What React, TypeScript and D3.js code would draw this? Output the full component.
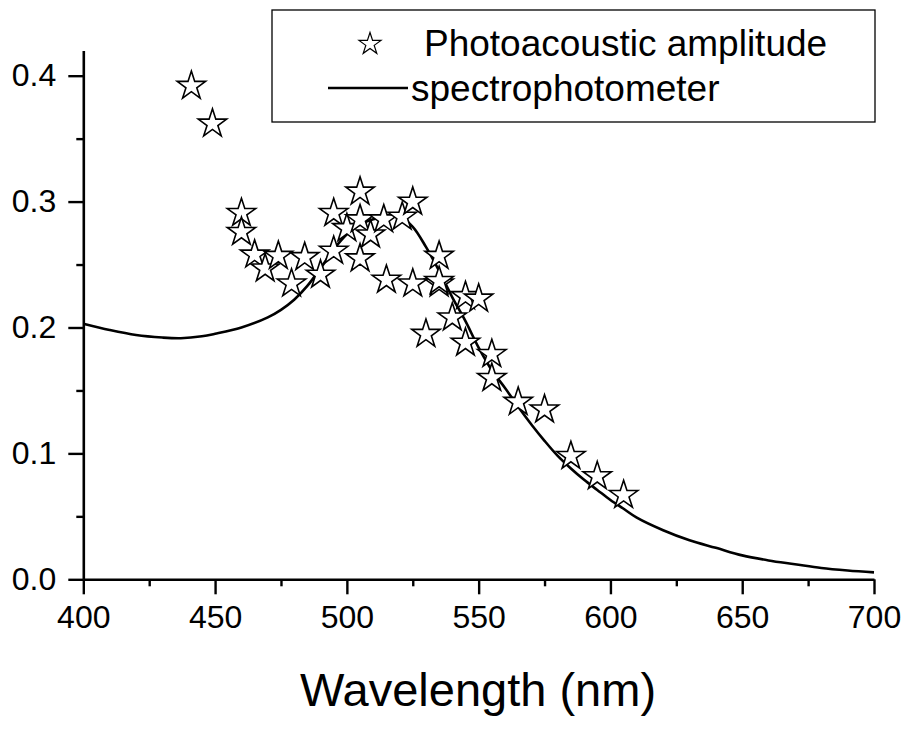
import { useEffect, useRef } from "react";
import * as d3 from "d3";

const paWavelength = [
  441, 449, 460, 460, 465, 469, 474, 479, 484, 490, 495, 495, 500, 505, 505, 505,
  509, 514, 515, 521, 525, 525, 530, 535, 535, 535, 540, 545, 545, 550, 555, 555,
  565, 575, 585, 595, 605,
];
const paAmplitude = [
  0.393, 0.363, 0.292, 0.277, 0.259, 0.248, 0.258, 0.236, 0.257, 0.243, 0.262, 0.292,
  0.280, 0.309, 0.287, 0.256, 0.275, 0.287, 0.239, 0.289, 0.301, 0.236, 0.196, 0.258,
  0.236, 0.238, 0.209, 0.226, 0.189, 0.224, 0.180, 0.161, 0.142, 0.136, 0.099, 0.083,
  0.068,
];

const specWavelength = [
  400, 410, 420, 430, 437, 445, 450, 460, 470, 475, 480, 485, 490, 495, 500, 505, 510, 515,
  520, 525, 530, 535, 540, 545, 550, 555, 560, 565, 570, 575, 580, 585, 590, 595, 600,
  605, 610, 620, 630, 640, 650, 660, 670, 680, 690, 700,
];
const specAbsorbance = [
  0.203, 0.198, 0.194, 0.192, 0.1915, 0.193, 0.195, 0.2, 0.208, 0.214, 0.222, 0.233, 0.247,
  0.262, 0.274, 0.282, 0.286, 0.288, 0.288, 0.28, 0.264, 0.245, 0.224, 0.205, 0.184,
  0.166, 0.152, 0.137, 0.123, 0.11, 0.098, 0.088, 0.079, 0.071, 0.063, 0.056, 0.049,
  0.039, 0.031, 0.025, 0.019, 0.015, 0.012, 0.009, 0.007, 0.0055,
];

const xTicks = [400, 450, 500, 550, 600, 650, 700];
const xMinor = [425, 475, 525, 575, 625, 675];
const yTicks = [0.0, 0.1, 0.2, 0.3, 0.4];
const yMinor = [0.05, 0.15, 0.25, 0.35];

const legendLabels = ["Photoacoustic amplitude", "spectrophotometer"];

const W = 908;
const H = 740;
const FONT = "'Liberation Sans', Arial, sans-serif";

export default function App() {
  const svgRef = useRef<SVGSVGElement | null>(null);

  useEffect(() => {
    const svg = d3.select(svgRef.current);
    svg.selectAll("*").remove();

    const x = d3.scaleLinear().domain([400, 700]).range([83.3, 874]);
    const y = d3.scaleLinear().domain([0, 0.42]).range([579.3, 50.5]);

    svg.append("rect").attr("width", W).attr("height", H).attr("fill", "#fff");

    // spectrophotometer curve
    const specPts = specWavelength.map((w, i) => [w, specAbsorbance[i]] as [number, number]);
    const line = d3
      .line<[number, number]>()
      .x((d) => x(d[0]))
      .y((d) => y(d[1]))
      .curve(d3.curveCatmullRom);
    svg
      .append("path")
      .datum(specPts)
      .attr("fill", "none")
      .attr("stroke", "#000")
      .attr("stroke-width", 2.6)
      .attr("d", line);

    // star markers
    const star = d3.symbol(d3.symbolStar, 250);
    svg
      .selectAll(".pa")
      .data(paWavelength.map((w, i) => [w, paAmplitude[i]]))
      .enter()
      .append("path")
      .attr("class", "pa")
      .attr("transform", (d) => `translate(${x(d[0])},${y(d[1]) + 1.5})`)
      .attr("d", star)
      .attr("fill", "#fff")
      .attr("stroke", "#000")
      .attr("stroke-width", 1.6);

    // axes
    const styleAxis = (g: d3.Selection<SVGGElement, unknown, null, undefined>) => {
      g.select(".domain").attr("stroke-width", 2.6);
      g.selectAll(".tick line").attr("stroke-width", 2.4);
      g.selectAll(".tick text")
        .attr("font-family", FONT)
        .attr("font-size", 32)
        .attr("fill", "#000");
    };

    const gx = svg
      .append("g")
      .attr("transform", `translate(0,${y(0)})`)
      .call(d3.axisBottom(x).tickValues(xMinor).tickSize(7).tickSizeOuter(0).tickFormat(() => ""));
    gx.select(".domain").remove();
    gx.selectAll(".tick line").attr("stroke-width", 2.4);

    const gx2 = svg
      .append("g")
      .attr("transform", `translate(0,${y(0)})`)
      .call(
        d3
          .axisBottom(x)
          .tickValues(xTicks)
          .tickSize(15)
          .tickSizeOuter(0)
          .tickPadding(11)
          .tickFormat(d3.format("d"))
      );
    styleAxis(gx2);

    const gy = svg
      .append("g")
      .attr("transform", `translate(${x(400)},0)`)
      .call(d3.axisLeft(y).tickValues(yMinor).tickSize(7).tickSizeOuter(0).tickFormat(() => ""));
    gy.select(".domain").remove();
    gy.selectAll(".tick line").attr("stroke-width", 2.4);

    const gy2 = svg
      .append("g")
      .attr("transform", `translate(${x(400)},0)`)
      .call(
        d3
          .axisLeft(y)
          .tickValues(yTicks)
          .tickSize(15)
          .tickSizeOuter(0)
          .tickPadding(12)
          .tickFormat(d3.format(".1f"))
      );
    styleAxis(gy2);

    // axis title
    svg
      .append("text")
      .attr("x", 478)
      .attr("y", 706)
      .attr("text-anchor", "middle")
      .attr("font-family", FONT)
      .attr("font-size", 47)
      .text("Wavelength (nm)");

    // legend
    const lg = svg.append("g");
    lg.append("rect")
      .attr("x", 272)
      .attr("y", 10)
      .attr("width", 603)
      .attr("height", 112)
      .attr("fill", "#fff")
      .attr("stroke", "#000")
      .attr("stroke-width", 1.3);
    lg.append("path")
      .attr("transform", "translate(370,44)")
      .attr("d", d3.symbol(d3.symbolStar, 150)())
      .attr("fill", "#fff")
      .attr("stroke", "#000")
      .attr("stroke-width", 1.2);
    lg.append("line")
      .attr("x1", 328)
      .attr("x2", 408)
      .attr("y1", 88)
      .attr("y2", 88)
      .attr("stroke", "#000")
      .attr("stroke-width", 2.6);
    lg.selectAll("text")
      .data(legendLabels)
      .enter()
      .append("text")
      .attr("x", (_, i) => (i === 0 ? 424 : 411))
      .attr("y", (_, i) => (i === 0 ? 56 : 101))
      .attr("font-family", FONT)
      .attr("font-size", 37)
      .text((d) => d);
  }, []);

  return (
    <svg
      ref={svgRef}
      width={W}
      height={H}
      style={{ position: "absolute", left: 0, top: 0 }}
    />
  );
}
